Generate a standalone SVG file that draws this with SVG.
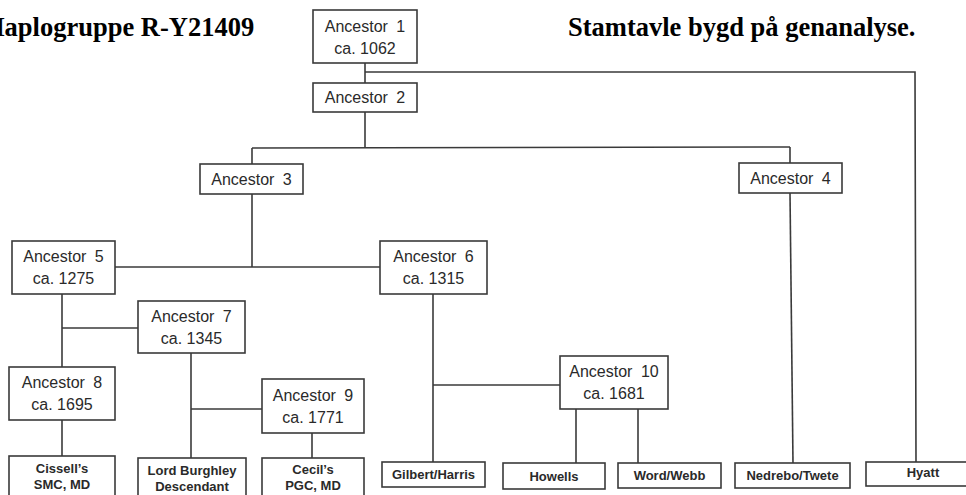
<svg xmlns="http://www.w3.org/2000/svg" width="966" height="495" viewBox="0 0 966 495">
<style>
.box{fill:#fff;stroke:#3a3a3a;stroke-width:1.6}
.t{font-family:"Liberation Sans",Arial,sans-serif;font-size:16px;fill:#2a2a2a;text-anchor:middle;word-spacing:4px}
.d{word-spacing:0}
.b{font-family:"Liberation Sans",Arial,sans-serif;font-size:13px;font-weight:bold;fill:#2a2a2a;text-anchor:middle}
.title{font-family:"Liberation Serif","Times New Roman",serif;font-size:26.5px;font-weight:bold;fill:#000}
#connectors path{fill:none;stroke:#3a3a3a;stroke-width:1.6}
</style>
<rect width="966" height="495" fill="#fff"/>
<text class="title" x="-16" y="36">Haplogruppe R-Y21409</text>
<text class="title" x="568" y="36">Stamtavle bygd på genanalyse.</text>
<g id="connectors">
<path d="M365,63V83"/>
<path d="M365,72H915L916,462"/>
<path d="M365,112V148"/>
<path d="M252,148L790,147"/>
<path d="M252,148V164"/>
<path d="M790,147V163"/>
<path d="M790,193L793,463"/>
<path d="M252,194V267"/>
<path d="M115,267H380"/>
<path d="M62,294V367"/>
<path d="M62,328H138"/>
<path d="M62,420V456"/>
<path d="M191,353V458"/>
<path d="M191,409H262"/>
<path d="M312,433V458"/>
<path d="M433,294V462"/>
<path d="M433,385H560"/>
<path d="M576,409V463"/>
<path d="M638,409V463"/>
</g>
<g id="ancestor1"><rect class="box" x="313" y="10" width="104" height="53"/><text class="t" x="365" y="32">Ancestor 1</text><text class="t d" x="365" y="54">ca. 1062</text></g>
<g id="ancestor2"><rect class="box" x="313" y="83" width="104" height="29"/><text class="t" x="365" y="103">Ancestor 2</text></g>
<g id="ancestor3"><rect class="box" x="200" y="164" width="103" height="30"/><text class="t" x="251.5" y="185">Ancestor 3</text></g>
<g id="ancestor4"><rect class="box" x="739" y="163" width="103" height="30"/><text class="t" x="790.5" y="184">Ancestor 4</text></g>
<g id="ancestor5"><rect class="box" x="12" y="241" width="103" height="53"/><text class="t" x="63.5" y="262">Ancestor 5</text><text class="t d" x="63.5" y="284">ca. 1275</text></g>
<g id="ancestor6"><rect class="box" x="380" y="241" width="107" height="53"/><text class="t" x="433.5" y="262">Ancestor 6</text><text class="t d" x="433.5" y="284">ca. 1315</text></g>
<g id="ancestor7"><rect class="box" x="138" y="301" width="107" height="52"/><text class="t" x="191.5" y="322">Ancestor 7</text><text class="t d" x="191.5" y="344">ca. 1345</text></g>
<g id="ancestor8"><rect class="box" x="9" y="367" width="106" height="53"/><text class="t" x="62" y="388">Ancestor 8</text><text class="t d" x="62" y="410">ca. 1695</text></g>
<g id="ancestor9"><rect class="box" x="262" y="379" width="102" height="54"/><text class="t" x="313" y="401">Ancestor 9</text><text class="t d" x="313" y="423">ca. 1771</text></g>
<g id="ancestor10"><rect class="box" x="560" y="356" width="108" height="53"/><text class="t" x="614" y="377">Ancestor 10</text><text class="t d" x="614" y="399">ca. 1681</text></g>
<g id="cissell"><rect class="box" x="9" y="456" width="106" height="50"/><text class="b" x="62" y="473">Cissell’s</text><text class="b" x="62" y="489">SMC, MD</text></g>
<g id="burghley"><rect class="box" x="138" y="458" width="108" height="50"/><text class="b" x="192" y="475">Lord Burghley</text><text class="b" x="192" y="491">Descendant</text></g>
<g id="cecil"><rect class="box" x="262" y="458" width="102" height="50"/><text class="b" x="313" y="474">Cecil’s</text><text class="b" x="313" y="490">PGC, MD</text></g>
<g id="gilbert"><rect class="box" x="382" y="462" width="103" height="25"/><text class="b" x="433.5" y="479">Gilbert/Harris</text></g>
<g id="howells"><rect class="box" x="503" y="463" width="102" height="26"/><text class="b" x="554" y="481">Howells</text></g>
<g id="wordwebb"><rect class="box" x="618" y="463" width="103" height="25"/><text class="b" x="669.5" y="480">Word/Webb</text></g>
<g id="nedrebo"><rect class="box" x="735" y="463" width="115" height="25"/><text class="b" x="792.5" y="480">Nedrebo/Twete</text></g>
<g id="hyatt"><rect class="box" x="866" y="462" width="110" height="24"/><text class="b" x="923" y="477">Hyatt</text></g>
</svg>
